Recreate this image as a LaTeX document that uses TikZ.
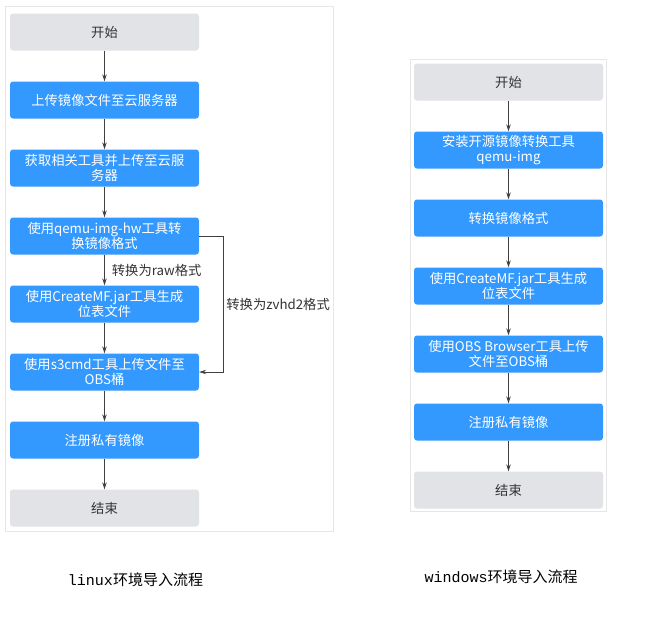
\documentclass[tikz,border=0pt]{standalone}
\usepackage{fontspec}
\setmainfont{Noto Sans CJK SC}
\newfontfamily\monof{Liberation Mono}
\usetikzlibrary{arrows.meta}
\definecolor{boxblue}{RGB}{51,153,255}
\definecolor{boxgrey}{RGB}{225,227,230}
\definecolor{framegrey}{RGB}{230,230,230}
\definecolor{linegrey}{RGB}{64,64,64}
\definecolor{txtgrey}{RGB}{51,51,51}
\tikzset{
  base/.style={minimum width=189pt, minimum height=37pt, rounded corners=3pt, inner sep=1pt, align=center, font=\fontsize{13.3}{15.5}\selectfont},
  bluebox/.style={base, fill=boxblue, text=white},
  greybox/.style={base, fill=boxgrey, text=txtgrey},
  arr/.style={draw=linegrey, line width=0.8pt, -{Stealth[length=7pt,width=4.5pt]}},
  frame/.style={draw=framegrey, line width=0.8pt},
  lbl/.style={font=\fontsize{13.3}{16}\selectfont, text=txtgrey, inner sep=0pt},
  captext/.style={font=\fontsize{15}{18}\selectfont, text=black, inner sep=0pt}
}
\begin{document}
\begin{tikzpicture}[x=1pt,y=-1pt]
\useasboundingbox[fill=white] (0,0) rectangle (668,630);
\draw[frame] (5.5,6.5) rectangle (333,531.5);
\draw[frame] (410.5,59.5) rectangle (606,511.5);
% left flow
\node[greybox] (l1) at (104.5,32) {开始};
\node[bluebox] (l2) at (104.5,100) {上传镜像文件至云服务器};
\node[bluebox] (l3) at (104.5,168) {获取相关工具并上传至云服\\务器};
\node[bluebox] (l4) at (104.5,236) {使用qemu-img-hw工具转\\换镜像格式};
\node[bluebox] (l5) at (104.5,304) {使用CreateMF.jar工具生成\\位表文件};
\node[bluebox] (l6) at (104.5,372) {使用s3cmd工具上传文件至\\OBS桶};
\node[bluebox] (l7) at (104.5,440) {注册私有镜像};
\node[greybox] (l8) at (104.5,508) {结束};
\draw[arr] (l1) -- (l2);
\draw[arr] (l2) -- (l3);
\draw[arr] (l3) -- (l4);
\draw[arr] (l4) -- node[lbl, anchor=west, xshift=7pt] (lr) {转换为raw格式} (l5);
\draw[arr] (l5) -- (l6);
\draw[arr] (l6) -- (l7);
\draw[arr] (l7) -- (l8);
\coordinate (cr) at (223,236);
\draw[arr] (l4.east) -- (cr) |- node[lbl, pos=0.25, anchor=west, xshift=3pt] (lz) {转换为zvhd2格式} (l6.east);
% right flow
\node[greybox] (r1) at (508.5,82) {开始};
\node[bluebox] (r2) at (508.5,150) {安装开源镜像转换工具\\qemu-img};
\node[bluebox] (r3) at (508.5,218) {转换镜像格式};
\node[bluebox] (r4) at (508.5,286) {使用CreateMF.jar工具生成\\位表文件};
\node[bluebox] (r5) at (508.5,354) {使用OBS Browser工具上传\\文件至OBS桶};
\node[bluebox] (r6) at (508.5,422) {注册私有镜像};
\node[greybox] (r7) at (508.5,490) {结束};
\draw[arr] (r1) -- (r2);
\draw[arr] (r2) -- (r3);
\draw[arr] (r3) -- (r4);
\draw[arr] (r4) -- (r5);
\draw[arr] (r5) -- (r6);
\draw[arr] (r6) -- (r7);
% captions
\node[captext] (c1) at (135.5,580) {{\monof linux}环境导入流程};
\node[captext] (c2) at (501,577) {{\monof windows}环境导入流程};
\end{tikzpicture}
\end{document}
